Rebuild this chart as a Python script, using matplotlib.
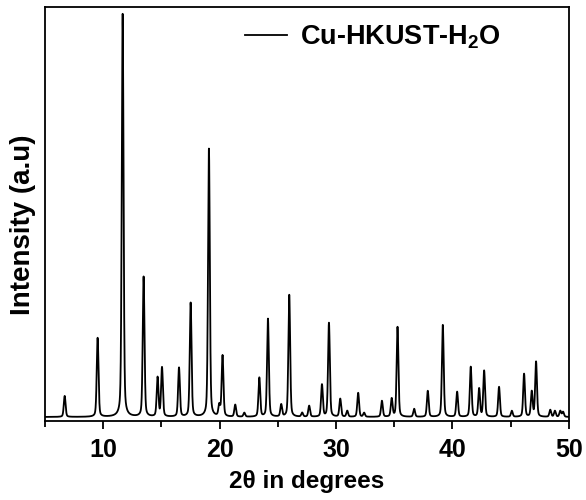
import numpy as np
import matplotlib
matplotlib.use('Agg')
import matplotlib.pyplot as plt

plt.rcParams['font.family'] = ['Liberation Sans', 'DejaVu Sans']
plt.rcParams['font.weight'] = 'bold'
plt.rcParams['mathtext.fontset'] = 'custom'
plt.rcParams['mathtext.rm'] = 'Liberation Sans:bold'
plt.rcParams['mathtext.bf'] = 'Liberation Sans:bold'

# peak positions (2theta, deg) and heights (arb. units)
peak_pos = [6.69, 9.52, 11.67, 13.47, 14.67, 15.05, 16.51, 17.51, 19.08, 19.97,
            20.25, 21.34, 22.12, 23.41, 24.15, 25.29, 25.98, 27.09, 27.69, 28.79,
            29.39, 30.36, 30.96, 31.90, 32.41, 33.94, 34.78, 35.28, 36.71, 37.88,
            39.17, 40.40, 41.57, 42.29, 42.72, 44.00, 45.10, 46.15, 46.81, 47.18,
            48.40, 48.80, 49.26, 49.50]
peak_int = [21, 79, 403, 140, 39, 49, 49, 114, 268, 11,
            61, 12, 4, 39, 98, 12, 122, 4, 11, 32,
            94, 18, 6, 24, 4, 16, 18, 90, 8, 26,
            92, 25, 50, 28, 46, 30, 6, 43, 25, 55,
            7, 6, 6, 5]
baseline = 1.0

two_theta = np.linspace(5, 50, 6000)
counts = np.full_like(two_theta, baseline)
for p, h in zip(peak_pos, peak_int):
    w = 0.075
    g = np.exp(-0.5 * ((two_theta - p) / w) ** 2)
    l = 1.0 / (1.0 + ((two_theta - p) / (w * 1.3)) ** 2)
    counts += h * (0.7 * g + 0.3 * l)

fig = plt.figure(figsize=(5.86, 5.0), dpi=100)
ax = fig.add_axes([0.0768, 0.158, 0.894, 0.828])

ax.plot(two_theta, counts, color='black', lw=1.3, label='Cu-HKUST-H$_2$O')

ax.set_xlim(5, 50)
ax.set_ylim(-3, 411)
ax.set_xticks([10, 20, 30, 40, 50])
ax.set_xticks([5, 15, 25, 35, 45], minor=True)
ax.set_yticks([])
ax.tick_params(axis='x', which='major', direction='out', length=6, width=1.3,
               labelsize=18, pad=6)
ax.tick_params(axis='x', which='minor', direction='out', length=4, width=1.3)
for lab in ax.get_xticklabels():
    lab.set_fontweight('bold')
for s in ax.spines.values():
    s.set_linewidth(1.3)

ax.set_xlabel('2θ in degrees', fontsize=17.5, fontweight='bold', labelpad=6)
ax.set_ylabel('Intensity (a.u)', fontsize=20, fontweight='bold')
ax.yaxis.set_label_coords(-0.018, 0.473)

ax.legend(loc='upper left', bbox_to_anchor=(0.335, 1.02), frameon=False,
          handlelength=1.55, handletextpad=0.5,
          prop={'weight': 'bold', 'size': 19.5})

fig.savefig('out.png', dpi=100)
